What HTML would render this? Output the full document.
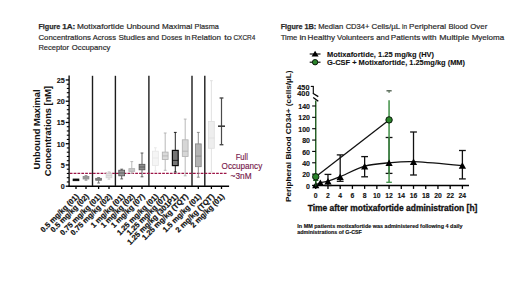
<!DOCTYPE html>
<html><head><meta charset="utf-8"><style>
html,body{margin:0;padding:0;background:#fff;width:520px;height:292px;overflow:hidden}
svg{display:block;font-family:"Liberation Sans", sans-serif}
</style></head><body>
<svg width="520" height="292" viewBox="0 0 520 292" font-family='"Liberation Sans", sans-serif'>
<rect width="520" height="292" fill="#fff"/>
<text stroke="#2a2a2a" stroke-width="0.25" x="38.40" y="28.9" font-size="8.1" fill="#2a2a2a" font-weight="bold" textLength="21.95" lengthAdjust="spacingAndGlyphs">Figure</text>
<text stroke="#2a2a2a" stroke-width="0.25" x="62.15" y="28.9" font-size="8.1" fill="#2a2a2a" font-weight="bold" textLength="13.20" lengthAdjust="spacingAndGlyphs">1A:</text>
<text stroke="#2a2a2a" stroke-width="0.2" x="76.90" y="28.9" font-size="8.1" fill="#2a2a2a" textLength="47.20" lengthAdjust="spacingAndGlyphs">Motixafortide</text>
<text stroke="#2a2a2a" stroke-width="0.2" x="126.40" y="28.9" font-size="8.1" fill="#2a2a2a" textLength="33.20" lengthAdjust="spacingAndGlyphs">Unbound</text>
<text stroke="#2a2a2a" stroke-width="0.2" x="162.05" y="28.9" font-size="8.1" fill="#2a2a2a" textLength="30.30" lengthAdjust="spacingAndGlyphs">Maximal</text>
<text stroke="#2a2a2a" stroke-width="0.2" x="194.55" y="28.9" font-size="8.1" fill="#2a2a2a" textLength="24.40" lengthAdjust="spacingAndGlyphs">Plasma</text>
<text stroke="#2a2a2a" stroke-width="0.2" x="38.40" y="39.6" font-size="8.1" fill="#2a2a2a" textLength="52.55" lengthAdjust="spacingAndGlyphs">Concentrations</text>
<text stroke="#2a2a2a" stroke-width="0.2" x="92.75" y="39.6" font-size="8.1" fill="#2a2a2a" textLength="23.20" lengthAdjust="spacingAndGlyphs">Across</text>
<text stroke="#2a2a2a" stroke-width="0.2" x="118.40" y="39.6" font-size="8.1" fill="#2a2a2a" textLength="26.95" lengthAdjust="spacingAndGlyphs">Studies</text>
<text stroke="#2a2a2a" stroke-width="0.2" x="146.90" y="39.6" font-size="8.1" fill="#2a2a2a" textLength="12.20" lengthAdjust="spacingAndGlyphs">and</text>
<text stroke="#2a2a2a" stroke-width="0.2" x="161.55" y="39.6" font-size="8.1" fill="#2a2a2a" textLength="20.70" lengthAdjust="spacingAndGlyphs">Doses</text>
<text stroke="#2a2a2a" stroke-width="0.2" x="184.65" y="39.6" font-size="8.1" fill="#2a2a2a" textLength="5.70" lengthAdjust="spacingAndGlyphs">in</text>
<text stroke="#2a2a2a" stroke-width="0.2" x="191.55" y="39.6" font-size="8.1" fill="#2a2a2a" textLength="29.40" lengthAdjust="spacingAndGlyphs">Relation</text>
<text stroke="#2a2a2a" stroke-width="0.2" x="224.25" y="39.6" font-size="8.1" fill="#2a2a2a" textLength="7.60" lengthAdjust="spacingAndGlyphs">to</text>
<text stroke="#2a2a2a" stroke-width="0.2" x="233.45" y="39.6" font-size="8.1" fill="#2a2a2a" textLength="21.90" lengthAdjust="spacingAndGlyphs">CXCR4</text>
<text stroke="#2a2a2a" stroke-width="0.2" x="38.40" y="49.6" font-size="8.1" fill="#2a2a2a" textLength="30.70" lengthAdjust="spacingAndGlyphs">Receptor</text>
<text stroke="#2a2a2a" stroke-width="0.2" x="71.85" y="49.6" font-size="8.1" fill="#2a2a2a" textLength="38.50" lengthAdjust="spacingAndGlyphs">Occupancy</text>
<text stroke="#2a2a2a" stroke-width="0.25" x="280.65" y="28.9" font-size="8.1" fill="#2a2a2a" font-weight="bold" textLength="21.95" lengthAdjust="spacingAndGlyphs">Figure</text>
<text stroke="#2a2a2a" stroke-width="0.25" x="304.40" y="28.9" font-size="8.1" fill="#2a2a2a" font-weight="bold" textLength="11.95" lengthAdjust="spacingAndGlyphs">1B:</text>
<text stroke="#2a2a2a" stroke-width="0.2" x="318.15" y="28.9" font-size="8.1" fill="#2a2a2a" textLength="25.10" lengthAdjust="spacingAndGlyphs">Median</text>
<text stroke="#2a2a2a" stroke-width="0.2" x="345.65" y="28.9" font-size="8.1" fill="#2a2a2a" textLength="23.80" lengthAdjust="spacingAndGlyphs">CD34+</text>
<text stroke="#2a2a2a" stroke-width="0.2" x="371.40" y="28.9" font-size="8.1" fill="#2a2a2a" textLength="28.85" lengthAdjust="spacingAndGlyphs">Cells/µL</text>
<text stroke="#2a2a2a" stroke-width="0.2" x="402.05" y="28.9" font-size="8.1" fill="#2a2a2a" textLength="5.05" lengthAdjust="spacingAndGlyphs">in</text>
<text stroke="#2a2a2a" stroke-width="0.2" x="409.05" y="28.9" font-size="8.1" fill="#2a2a2a" textLength="36.90" lengthAdjust="spacingAndGlyphs">Peripheral</text>
<text stroke="#2a2a2a" stroke-width="0.2" x="448.40" y="28.9" font-size="8.1" fill="#2a2a2a" textLength="19.45" lengthAdjust="spacingAndGlyphs">Blood</text>
<text stroke="#2a2a2a" stroke-width="0.2" x="470.25" y="28.9" font-size="8.1" fill="#2a2a2a" textLength="17.00" lengthAdjust="spacingAndGlyphs">Over</text>
<text stroke="#2a2a2a" stroke-width="0.2" x="280.65" y="39.6" font-size="8.1" fill="#2a2a2a" textLength="16.70" lengthAdjust="spacingAndGlyphs">Time</text>
<text stroke="#2a2a2a" stroke-width="0.2" x="299.40" y="39.6" font-size="8.1" fill="#2a2a2a" textLength="6.95" lengthAdjust="spacingAndGlyphs">in</text>
<text stroke="#2a2a2a" stroke-width="0.2" x="307.55" y="39.6" font-size="8.1" fill="#2a2a2a" textLength="27.55" lengthAdjust="spacingAndGlyphs">Healthy</text>
<text stroke="#2a2a2a" stroke-width="0.2" x="336.90" y="39.6" font-size="8.1" fill="#2a2a2a" textLength="36.95" lengthAdjust="spacingAndGlyphs">Volunteers</text>
<text stroke="#2a2a2a" stroke-width="0.2" x="376.25" y="39.6" font-size="8.1" fill="#2a2a2a" textLength="13.10" lengthAdjust="spacingAndGlyphs">and</text>
<text stroke="#2a2a2a" stroke-width="0.2" x="390.75" y="39.6" font-size="8.1" fill="#2a2a2a" textLength="29.50" lengthAdjust="spacingAndGlyphs">Patients</text>
<text stroke="#2a2a2a" stroke-width="0.2" x="422.05" y="39.6" font-size="8.1" fill="#2a2a2a" textLength="14.40" lengthAdjust="spacingAndGlyphs">with</text>
<text stroke="#2a2a2a" stroke-width="0.2" x="439.25" y="39.6" font-size="8.1" fill="#2a2a2a" textLength="30.10" lengthAdjust="spacingAndGlyphs">Multiple</text>
<text stroke="#2a2a2a" stroke-width="0.2" x="471.65" y="39.6" font-size="8.1" fill="#2a2a2a" textLength="32.60" lengthAdjust="spacingAndGlyphs">Myeloma</text>
<line x1="69.1" y1="75.6" x2="69.1" y2="186.4" stroke="#000" stroke-width="1.3"/>
<line x1="65.69999999999999" y1="186.20" x2="69.1" y2="186.20" stroke="#000" stroke-width="1.3"/>
<text stroke="#111" stroke-width="0.12" x="64.69999999999999" y="189.20" font-size="7.2" font-weight="bold" text-anchor="end" fill="#111">0</text>
<line x1="66.8" y1="181.95" x2="69.1" y2="181.95" stroke="#000" stroke-width="1.1"/>
<line x1="66.8" y1="177.70" x2="69.1" y2="177.70" stroke="#000" stroke-width="1.1"/>
<line x1="66.8" y1="173.45" x2="69.1" y2="173.45" stroke="#000" stroke-width="1.1"/>
<line x1="66.8" y1="169.20" x2="69.1" y2="169.20" stroke="#000" stroke-width="1.1"/>
<line x1="65.69999999999999" y1="164.95" x2="69.1" y2="164.95" stroke="#000" stroke-width="1.3"/>
<text stroke="#111" stroke-width="0.12" x="64.69999999999999" y="167.95" font-size="7.2" font-weight="bold" text-anchor="end" fill="#111">5</text>
<line x1="66.8" y1="160.70" x2="69.1" y2="160.70" stroke="#000" stroke-width="1.1"/>
<line x1="66.8" y1="156.45" x2="69.1" y2="156.45" stroke="#000" stroke-width="1.1"/>
<line x1="66.8" y1="152.20" x2="69.1" y2="152.20" stroke="#000" stroke-width="1.1"/>
<line x1="66.8" y1="147.95" x2="69.1" y2="147.95" stroke="#000" stroke-width="1.1"/>
<line x1="65.69999999999999" y1="143.70" x2="69.1" y2="143.70" stroke="#000" stroke-width="1.3"/>
<text stroke="#111" stroke-width="0.12" x="64.69999999999999" y="146.70" font-size="7.2" font-weight="bold" text-anchor="end" fill="#111">10</text>
<line x1="66.8" y1="139.45" x2="69.1" y2="139.45" stroke="#000" stroke-width="1.1"/>
<line x1="66.8" y1="135.20" x2="69.1" y2="135.20" stroke="#000" stroke-width="1.1"/>
<line x1="66.8" y1="130.95" x2="69.1" y2="130.95" stroke="#000" stroke-width="1.1"/>
<line x1="66.8" y1="126.70" x2="69.1" y2="126.70" stroke="#000" stroke-width="1.1"/>
<line x1="65.69999999999999" y1="122.45" x2="69.1" y2="122.45" stroke="#000" stroke-width="1.3"/>
<text stroke="#111" stroke-width="0.12" x="64.69999999999999" y="125.45" font-size="7.2" font-weight="bold" text-anchor="end" fill="#111">15</text>
<line x1="66.8" y1="118.20" x2="69.1" y2="118.20" stroke="#000" stroke-width="1.1"/>
<line x1="66.8" y1="113.95" x2="69.1" y2="113.95" stroke="#000" stroke-width="1.1"/>
<line x1="66.8" y1="109.70" x2="69.1" y2="109.70" stroke="#000" stroke-width="1.1"/>
<line x1="66.8" y1="105.45" x2="69.1" y2="105.45" stroke="#000" stroke-width="1.1"/>
<line x1="65.69999999999999" y1="101.20" x2="69.1" y2="101.20" stroke="#000" stroke-width="1.3"/>
<text stroke="#111" stroke-width="0.12" x="64.69999999999999" y="104.20" font-size="7.2" font-weight="bold" text-anchor="end" fill="#111">20</text>
<line x1="66.8" y1="96.95" x2="69.1" y2="96.95" stroke="#000" stroke-width="1.1"/>
<line x1="66.8" y1="92.70" x2="69.1" y2="92.70" stroke="#000" stroke-width="1.1"/>
<line x1="66.8" y1="88.45" x2="69.1" y2="88.45" stroke="#000" stroke-width="1.1"/>
<line x1="66.8" y1="84.20" x2="69.1" y2="84.20" stroke="#000" stroke-width="1.1"/>
<line x1="65.69999999999999" y1="79.95" x2="69.1" y2="79.95" stroke="#000" stroke-width="1.3"/>
<text stroke="#111" stroke-width="0.12" x="64.69999999999999" y="82.95" font-size="7.2" font-weight="bold" text-anchor="end" fill="#111">25</text>
<line x1="68.5" y1="186.2" x2="229.1" y2="186.2" stroke="#000" stroke-width="1.4"/>
<line x1="76" y1="186.2" x2="76" y2="189" stroke="#000" stroke-width="1.3"/>
<line x1="86" y1="186.2" x2="86" y2="189" stroke="#000" stroke-width="1.3"/>
<line x1="98.6" y1="186.2" x2="98.6" y2="189" stroke="#000" stroke-width="1.3"/>
<line x1="109" y1="186.2" x2="109" y2="189" stroke="#000" stroke-width="1.3"/>
<line x1="121.7" y1="186.2" x2="121.7" y2="189" stroke="#000" stroke-width="1.3"/>
<line x1="131.8" y1="186.2" x2="131.8" y2="189" stroke="#000" stroke-width="1.3"/>
<line x1="142" y1="186.2" x2="142" y2="189" stroke="#000" stroke-width="1.3"/>
<line x1="155.4" y1="186.2" x2="155.4" y2="189" stroke="#000" stroke-width="1.3"/>
<line x1="165.2" y1="186.2" x2="165.2" y2="189" stroke="#000" stroke-width="1.3"/>
<line x1="175.3" y1="186.2" x2="175.3" y2="189" stroke="#000" stroke-width="1.3"/>
<line x1="185.2" y1="186.2" x2="185.2" y2="189" stroke="#000" stroke-width="1.3"/>
<line x1="198.3" y1="186.2" x2="198.3" y2="189" stroke="#000" stroke-width="1.3"/>
<line x1="211.4" y1="186.2" x2="211.4" y2="189" stroke="#000" stroke-width="1.3"/>
<line x1="221.5" y1="186.2" x2="221.5" y2="189" stroke="#000" stroke-width="1.3"/>
<text stroke="#111" stroke-width="0.2" x="79.3" y="196.9" font-size="7.6" font-weight="bold" text-anchor="end" fill="#111" transform="rotate(-45 79.3 196.9)">0.5 mg/kg (01)</text>
<text stroke="#111" stroke-width="0.2" x="89.3" y="196.9" font-size="7.6" font-weight="bold" text-anchor="end" fill="#111" transform="rotate(-45 89.3 196.9)">0.5 mg/kg (02)</text>
<text stroke="#111" stroke-width="0.2" x="101.89999999999999" y="196.9" font-size="7.6" font-weight="bold" text-anchor="end" fill="#111" transform="rotate(-45 101.89999999999999 196.9)">0.75 mg/kg (01)</text>
<text stroke="#111" stroke-width="0.2" x="112.3" y="196.9" font-size="7.6" font-weight="bold" text-anchor="end" fill="#111" transform="rotate(-45 112.3 196.9)">0.75 mg/kg (02)</text>
<text stroke="#111" stroke-width="0.2" x="125.0" y="196.9" font-size="7.6" font-weight="bold" text-anchor="end" fill="#111" transform="rotate(-45 125.0 196.9)">1 mg/kg (01)</text>
<text stroke="#111" stroke-width="0.2" x="135.10000000000002" y="196.9" font-size="7.6" font-weight="bold" text-anchor="end" fill="#111" transform="rotate(-45 135.10000000000002 196.9)">1 mg/kg (02)</text>
<text stroke="#111" stroke-width="0.2" x="145.3" y="196.9" font-size="7.6" font-weight="bold" text-anchor="end" fill="#111" transform="rotate(-45 145.3 196.9)">1 mg/kg (07)</text>
<text stroke="#111" stroke-width="0.2" x="158.70000000000002" y="196.9" font-size="7.6" font-weight="bold" text-anchor="end" fill="#111" transform="rotate(-45 158.70000000000002 196.9)">1.25 mg/kg (01)</text>
<text stroke="#111" stroke-width="0.2" x="168.5" y="196.9" font-size="7.6" font-weight="bold" text-anchor="end" fill="#111" transform="rotate(-45 168.5 196.9)">1.25 mg/kg (07)</text>
<text stroke="#111" stroke-width="0.2" x="178.60000000000002" y="196.9" font-size="7.6" font-weight="bold" text-anchor="end" fill="#111" transform="rotate(-45 178.60000000000002 196.9)">1.25 mg/kg (301P1)</text>
<text stroke="#111" stroke-width="0.2" x="188.5" y="196.9" font-size="7.6" font-weight="bold" text-anchor="end" fill="#111" transform="rotate(-45 188.5 196.9)">1.25 mg/kg (TQT)</text>
<text stroke="#111" stroke-width="0.2" x="201.60000000000002" y="196.9" font-size="7.6" font-weight="bold" text-anchor="end" fill="#111" transform="rotate(-45 201.60000000000002 196.9)">1.5 mg/kg (01)</text>
<text stroke="#111" stroke-width="0.2" x="214.70000000000002" y="196.9" font-size="7.6" font-weight="bold" text-anchor="end" fill="#111" transform="rotate(-45 214.70000000000002 196.9)">2 mg/kg (TQT)</text>
<text stroke="#111" stroke-width="0.2" x="224.8" y="196.9" font-size="7.6" font-weight="bold" text-anchor="end" fill="#111" transform="rotate(-45 224.8 196.9)">2 mg/kg (01)</text>
<line x1="92.5" y1="75.8" x2="92.5" y2="186" stroke="#1c1c1c" stroke-width="1.4"/>
<line x1="115.4" y1="75.8" x2="115.4" y2="186" stroke="#1c1c1c" stroke-width="1.4"/>
<line x1="148.9" y1="75.8" x2="148.9" y2="186" stroke="#1c1c1c" stroke-width="1.4"/>
<line x1="192.0" y1="75.8" x2="192.0" y2="186" stroke="#1c1c1c" stroke-width="1.4"/>
<line x1="204.8" y1="75.8" x2="204.8" y2="186" stroke="#1c1c1c" stroke-width="1.4"/>
<line x1="69.8" y1="173.4" x2="226.6" y2="173.4" stroke="#9c1446" stroke-width="1.3" stroke-dasharray="2.7 1.15"/>
<text x="235.7" y="159.7" font-size="8.5" fill="#781a4c" stroke="#781a4c" stroke-width="0.15" textLength="12.2" lengthAdjust="spacingAndGlyphs">Full</text>
<text x="221.6" y="169.3" font-size="8.5" fill="#781a4c" stroke="#781a4c" stroke-width="0.15" textLength="40.6" lengthAdjust="spacingAndGlyphs">Occupancy</text>
<text x="230.6" y="178.9" font-size="8.5" fill="#781a4c" stroke="#781a4c" stroke-width="0.15" textLength="21" lengthAdjust="spacingAndGlyphs">~3nM</text>
<rect x="73.1" y="179.0" width="5.8" height="1.70" fill="#111" stroke="#000" stroke-width="0.8"/>
<line x1="86" y1="175.6" x2="86" y2="176.5" stroke="#8a8a8a" stroke-width="0.9"/>
<line x1="84.6" y1="175.6" x2="87.4" y2="175.6" stroke="#8a8a8a" stroke-width="0.9"/>
<line x1="86" y1="179.0" x2="86" y2="180.2" stroke="#8a8a8a" stroke-width="0.9"/>
<line x1="84.6" y1="180.2" x2="87.4" y2="180.2" stroke="#8a8a8a" stroke-width="0.9"/>
<rect x="83.1" y="176.5" width="5.8" height="2.50" fill="#a8a8a8" stroke="#8a8a8a" stroke-width="0.8"/>
<line x1="83.1" y1="177.8" x2="88.89999999999999" y2="177.8" stroke="#8a8a8a" stroke-width="0.8"/>
<line x1="98.6" y1="177.6" x2="98.6" y2="178.3" stroke="#6e6e6e" stroke-width="0.9"/>
<line x1="97.19999999999999" y1="177.6" x2="100.0" y2="177.6" stroke="#6e6e6e" stroke-width="0.9"/>
<line x1="98.6" y1="180.3" x2="98.6" y2="183.0" stroke="#6e6e6e" stroke-width="0.9"/>
<line x1="97.19999999999999" y1="183.0" x2="100.0" y2="183.0" stroke="#6e6e6e" stroke-width="0.9"/>
<rect x="95.69999999999999" y="178.3" width="5.8" height="2.00" fill="#8c8c8c" stroke="#6e6e6e" stroke-width="0.8"/>
<line x1="95.69999999999999" y1="179.2" x2="101.49999999999999" y2="179.2" stroke="#6e6e6e" stroke-width="0.8"/>
<line x1="109" y1="171.8" x2="109" y2="173.2" stroke="#cfcfcf" stroke-width="0.9"/>
<line x1="107.6" y1="171.8" x2="110.4" y2="171.8" stroke="#cfcfcf" stroke-width="0.9"/>
<line x1="109" y1="177.8" x2="109" y2="179.2" stroke="#cfcfcf" stroke-width="0.9"/>
<line x1="107.6" y1="179.2" x2="110.4" y2="179.2" stroke="#cfcfcf" stroke-width="0.9"/>
<rect x="106.1" y="173.2" width="5.8" height="4.60" fill="#e2e2e2" stroke="#cfcfcf" stroke-width="0.8"/>
<line x1="106.1" y1="175.6" x2="111.89999999999999" y2="175.6" stroke="#cfcfcf" stroke-width="0.8"/>
<line x1="121.7" y1="169.2" x2="121.7" y2="170.2" stroke="#505050" stroke-width="0.9"/>
<line x1="120.3" y1="169.2" x2="123.10000000000001" y2="169.2" stroke="#505050" stroke-width="0.9"/>
<line x1="121.7" y1="175.8" x2="121.7" y2="178.9" stroke="#505050" stroke-width="0.9"/>
<line x1="120.3" y1="178.9" x2="123.10000000000001" y2="178.9" stroke="#505050" stroke-width="0.9"/>
<rect x="118.8" y="170.2" width="5.8" height="5.60" fill="#9a9a9a" stroke="#505050" stroke-width="0.8"/>
<line x1="118.8" y1="173.0" x2="124.6" y2="173.0" stroke="#505050" stroke-width="0.8"/>
<line x1="131.8" y1="161.6" x2="131.8" y2="168.6" stroke="#b2b2b2" stroke-width="0.9"/>
<line x1="130.4" y1="161.6" x2="133.20000000000002" y2="161.6" stroke="#b2b2b2" stroke-width="0.9"/>
<line x1="131.8" y1="171.4" x2="131.8" y2="173.2" stroke="#b2b2b2" stroke-width="0.9"/>
<line x1="130.4" y1="173.2" x2="133.20000000000002" y2="173.2" stroke="#b2b2b2" stroke-width="0.9"/>
<rect x="128.9" y="168.6" width="5.8" height="2.80" fill="#d2d2d2" stroke="#b2b2b2" stroke-width="0.8"/>
<line x1="128.9" y1="170.0" x2="134.70000000000002" y2="170.0" stroke="#b2b2b2" stroke-width="0.8"/>
<line x1="142" y1="153.0" x2="142" y2="164.3" stroke="#505050" stroke-width="0.9"/>
<line x1="140.6" y1="153.0" x2="143.4" y2="153.0" stroke="#505050" stroke-width="0.9"/>
<line x1="142" y1="169.8" x2="142" y2="176.8" stroke="#505050" stroke-width="0.9"/>
<line x1="140.6" y1="176.8" x2="143.4" y2="176.8" stroke="#505050" stroke-width="0.9"/>
<rect x="139.1" y="164.3" width="5.8" height="5.50" fill="#8c8c8c" stroke="#505050" stroke-width="0.8"/>
<line x1="139.1" y1="167.0" x2="144.9" y2="167.0" stroke="#505050" stroke-width="0.8"/>
<line x1="155.4" y1="147.8" x2="155.4" y2="151.2" stroke="#e6e6e6" stroke-width="0.9"/>
<line x1="154.0" y1="147.8" x2="156.8" y2="147.8" stroke="#e6e6e6" stroke-width="0.9"/>
<line x1="155.4" y1="165.6" x2="155.4" y2="171.0" stroke="#e6e6e6" stroke-width="0.9"/>
<line x1="154.0" y1="171.0" x2="156.8" y2="171.0" stroke="#e6e6e6" stroke-width="0.9"/>
<rect x="152.5" y="151.2" width="5.8" height="14.40" fill="#f5f5f5" stroke="#e6e6e6" stroke-width="0.8"/>
<line x1="152.5" y1="158.0" x2="158.3" y2="158.0" stroke="#e6e6e6" stroke-width="0.8"/>
<line x1="165.2" y1="133.0" x2="165.2" y2="152.1" stroke="#b0b0b0" stroke-width="0.9"/>
<line x1="163.79999999999998" y1="133.0" x2="166.6" y2="133.0" stroke="#b0b0b0" stroke-width="0.9"/>
<line x1="165.2" y1="159.4" x2="165.2" y2="170.3" stroke="#b0b0b0" stroke-width="0.9"/>
<line x1="163.79999999999998" y1="170.3" x2="166.6" y2="170.3" stroke="#b0b0b0" stroke-width="0.9"/>
<rect x="162.29999999999998" y="152.1" width="5.8" height="7.30" fill="#dadada" stroke="#b0b0b0" stroke-width="0.8"/>
<line x1="162.29999999999998" y1="155.9" x2="168.1" y2="155.9" stroke="#b0b0b0" stroke-width="0.8"/>
<line x1="175.3" y1="132.4" x2="175.3" y2="150.4" stroke="#0a0a0a" stroke-width="0.9"/>
<line x1="173.9" y1="132.4" x2="176.70000000000002" y2="132.4" stroke="#0a0a0a" stroke-width="0.9"/>
<line x1="175.3" y1="165.6" x2="175.3" y2="172.0" stroke="#0a0a0a" stroke-width="0.9"/>
<line x1="173.9" y1="172.0" x2="176.70000000000002" y2="172.0" stroke="#0a0a0a" stroke-width="0.9"/>
<rect x="172.4" y="150.4" width="5.8" height="15.20" fill="#767676" stroke="#0a0a0a" stroke-width="1.2"/>
<line x1="172.4" y1="160.4" x2="178.20000000000002" y2="160.4" stroke="#0a0a0a" stroke-width="0.8"/>
<line x1="185.2" y1="119.1" x2="185.2" y2="139.8" stroke="#b0b0b0" stroke-width="0.9"/>
<line x1="183.79999999999998" y1="119.1" x2="186.6" y2="119.1" stroke="#b0b0b0" stroke-width="0.9"/>
<line x1="185.2" y1="156.5" x2="185.2" y2="175.8" stroke="#b0b0b0" stroke-width="0.9"/>
<line x1="183.79999999999998" y1="175.8" x2="186.6" y2="175.8" stroke="#b0b0b0" stroke-width="0.9"/>
<rect x="182.29999999999998" y="139.8" width="5.8" height="16.70" fill="#d6d6d6" stroke="#b0b0b0" stroke-width="0.8"/>
<line x1="182.29999999999998" y1="151.2" x2="188.1" y2="151.2" stroke="#b0b0b0" stroke-width="0.8"/>
<line x1="198.3" y1="132.4" x2="198.3" y2="143.9" stroke="#808080" stroke-width="0.9"/>
<line x1="196.9" y1="132.4" x2="199.70000000000002" y2="132.4" stroke="#808080" stroke-width="0.9"/>
<line x1="198.3" y1="166.7" x2="198.3" y2="177.2" stroke="#808080" stroke-width="0.9"/>
<line x1="196.9" y1="177.2" x2="199.70000000000002" y2="177.2" stroke="#808080" stroke-width="0.9"/>
<rect x="195.4" y="143.9" width="5.8" height="22.80" fill="#b4b4b4" stroke="#808080" stroke-width="0.8"/>
<line x1="195.4" y1="156.1" x2="201.20000000000002" y2="156.1" stroke="#808080" stroke-width="0.8"/>
<line x1="211.4" y1="80.7" x2="211.4" y2="121.4" stroke="#dedede" stroke-width="0.9"/>
<line x1="210.0" y1="80.7" x2="212.8" y2="80.7" stroke="#dedede" stroke-width="0.9"/>
<line x1="211.4" y1="148.3" x2="211.4" y2="172.0" stroke="#dedede" stroke-width="0.9"/>
<line x1="210.0" y1="172.0" x2="212.8" y2="172.0" stroke="#dedede" stroke-width="0.9"/>
<rect x="208.5" y="121.4" width="5.8" height="26.90" fill="#eeeeee" stroke="#dedede" stroke-width="0.8"/>
<line x1="208.5" y1="138.0" x2="214.3" y2="138.0" stroke="#dedede" stroke-width="0.8"/>
<line x1="221.5" y1="98" x2="221.5" y2="144.7" stroke="#4a4a4a" stroke-width="1.2"/>
<line x1="219.6" y1="98" x2="223.4" y2="98" stroke="#4a4a4a" stroke-width="1.4"/>
<line x1="219.6" y1="144.7" x2="223.4" y2="144.7" stroke="#4a4a4a" stroke-width="1.4"/>
<line x1="218.0" y1="126.2" x2="225.0" y2="126.2" stroke="#3a3a3a" stroke-width="1.6"/>
<text stroke="#111" stroke-width="0.05" transform="translate(40.2 129.4) rotate(-90)" font-size="9.3" font-weight="bold" text-anchor="middle" fill="#111">Unbound Maximal</text>
<text stroke="#111" stroke-width="0.05" transform="translate(50.8 131.0) rotate(-90)" font-size="9.3" font-weight="bold" text-anchor="middle" fill="#111">Concentrations [nM]</text>
<line x1="315.75" y1="100.5" x2="315.75" y2="186.2" stroke="#1d5a1d" stroke-width="1.4"/>
<line x1="312.15" y1="185.50" x2="315.75" y2="185.50" stroke="#000" stroke-width="1.1"/>
<text stroke="#111" stroke-width="0.12" x="309.95" y="188.60" font-size="7.0" font-weight="bold" text-anchor="end" fill="#111">0</text>
<line x1="312.15" y1="174.14" x2="315.75" y2="174.14" stroke="#000" stroke-width="1.1"/>
<text stroke="#111" stroke-width="0.12" x="309.95" y="177.24" font-size="7.0" font-weight="bold" text-anchor="end" fill="#111">20</text>
<line x1="312.15" y1="162.78" x2="315.75" y2="162.78" stroke="#000" stroke-width="1.1"/>
<text stroke="#111" stroke-width="0.12" x="309.95" y="165.88" font-size="7.0" font-weight="bold" text-anchor="end" fill="#111">40</text>
<line x1="312.15" y1="151.42" x2="315.75" y2="151.42" stroke="#000" stroke-width="1.1"/>
<text stroke="#111" stroke-width="0.12" x="309.95" y="154.52" font-size="7.0" font-weight="bold" text-anchor="end" fill="#111">60</text>
<line x1="312.15" y1="140.06" x2="315.75" y2="140.06" stroke="#000" stroke-width="1.1"/>
<text stroke="#111" stroke-width="0.12" x="309.95" y="143.16" font-size="7.0" font-weight="bold" text-anchor="end" fill="#111">80</text>
<line x1="312.15" y1="128.70" x2="315.75" y2="128.70" stroke="#000" stroke-width="1.1"/>
<text stroke="#111" stroke-width="0.12" x="309.95" y="131.80" font-size="7.0" font-weight="bold" text-anchor="end" fill="#111">100</text>
<line x1="312.15" y1="117.34" x2="315.75" y2="117.34" stroke="#000" stroke-width="1.1"/>
<text stroke="#111" stroke-width="0.12" x="309.95" y="120.44" font-size="7.0" font-weight="bold" text-anchor="end" fill="#111">120</text>
<line x1="312.15" y1="105.98" x2="315.75" y2="105.98" stroke="#000" stroke-width="1.1"/>
<text stroke="#111" stroke-width="0.12" x="309.95" y="109.08" font-size="7.0" font-weight="bold" text-anchor="end" fill="#111">140</text>
<line x1="313.3" y1="86.4" x2="313.3" y2="93.2" stroke="#000" stroke-width="1.1"/>
<line x1="310.8" y1="86.4" x2="313.8" y2="86.4" stroke="#000" stroke-width="1.1"/>
<text stroke="#111" stroke-width="0.12" x="309.5" y="90.0" font-size="7.3" font-weight="bold" text-anchor="end" fill="#111">450</text>
<text stroke="#111" stroke-width="0.12" x="309.5" y="95.9" font-size="7.3" font-weight="bold" text-anchor="end" fill="#111">400</text>
<line x1="312.8" y1="93.2" x2="318.3" y2="96.6" stroke="#000" stroke-width="1.3"/>
<line x1="313.2" y1="97.4" x2="318.3" y2="101.3" stroke="#000" stroke-width="1.3"/>
<line x1="312.5" y1="185.5" x2="469" y2="185.5" stroke="#000" stroke-width="1.4"/>
<line x1="315.75" y1="185.6" x2="315.75" y2="188.9" stroke="#000" stroke-width="1.3"/>
<text stroke="#111" stroke-width="0.12" x="315.75" y="197.8" font-size="6.8" font-weight="bold" text-anchor="middle" fill="#111">0</text>
<line x1="327.97" y1="185.6" x2="327.97" y2="188.9" stroke="#000" stroke-width="1.3"/>
<text stroke="#111" stroke-width="0.12" x="327.97" y="197.8" font-size="6.8" font-weight="bold" text-anchor="middle" fill="#111">2</text>
<line x1="340.19" y1="185.6" x2="340.19" y2="188.9" stroke="#000" stroke-width="1.3"/>
<text stroke="#111" stroke-width="0.12" x="340.19" y="197.8" font-size="6.8" font-weight="bold" text-anchor="middle" fill="#111">4</text>
<line x1="352.41" y1="185.6" x2="352.41" y2="188.9" stroke="#000" stroke-width="1.3"/>
<text stroke="#111" stroke-width="0.12" x="352.41" y="197.8" font-size="6.8" font-weight="bold" text-anchor="middle" fill="#111">6</text>
<line x1="364.63" y1="185.6" x2="364.63" y2="188.9" stroke="#000" stroke-width="1.3"/>
<text stroke="#111" stroke-width="0.12" x="364.63" y="197.8" font-size="6.8" font-weight="bold" text-anchor="middle" fill="#111">8</text>
<line x1="376.85" y1="185.6" x2="376.85" y2="188.9" stroke="#000" stroke-width="1.3"/>
<text stroke="#111" stroke-width="0.12" x="376.85" y="197.8" font-size="6.8" font-weight="bold" text-anchor="middle" fill="#111">10</text>
<line x1="389.07" y1="185.6" x2="389.07" y2="188.9" stroke="#000" stroke-width="1.3"/>
<text stroke="#111" stroke-width="0.12" x="389.07" y="197.8" font-size="6.8" font-weight="bold" text-anchor="middle" fill="#111">12</text>
<line x1="401.29" y1="185.6" x2="401.29" y2="188.9" stroke="#000" stroke-width="1.3"/>
<text stroke="#111" stroke-width="0.12" x="401.29" y="197.8" font-size="6.8" font-weight="bold" text-anchor="middle" fill="#111">14</text>
<line x1="413.51" y1="185.6" x2="413.51" y2="188.9" stroke="#000" stroke-width="1.3"/>
<text stroke="#111" stroke-width="0.12" x="413.51" y="197.8" font-size="6.8" font-weight="bold" text-anchor="middle" fill="#111">16</text>
<line x1="425.73" y1="185.6" x2="425.73" y2="188.9" stroke="#000" stroke-width="1.3"/>
<text stroke="#111" stroke-width="0.12" x="425.73" y="197.8" font-size="6.8" font-weight="bold" text-anchor="middle" fill="#111">18</text>
<line x1="437.95" y1="185.6" x2="437.95" y2="188.9" stroke="#000" stroke-width="1.3"/>
<text stroke="#111" stroke-width="0.12" x="437.95" y="197.8" font-size="6.8" font-weight="bold" text-anchor="middle" fill="#111">20</text>
<line x1="450.17" y1="185.6" x2="450.17" y2="188.9" stroke="#000" stroke-width="1.3"/>
<text stroke="#111" stroke-width="0.12" x="450.17" y="197.8" font-size="6.8" font-weight="bold" text-anchor="middle" fill="#111">22</text>
<line x1="462.39" y1="185.6" x2="462.39" y2="188.9" stroke="#000" stroke-width="1.3"/>
<text stroke="#111" stroke-width="0.12" x="462.39" y="197.8" font-size="6.8" font-weight="bold" text-anchor="middle" fill="#111">24</text>
<text x="307.7" y="210.6" font-size="8.3" font-weight="bold" fill="#111" stroke="#111" stroke-width="0.3" textLength="169.7" lengthAdjust="spacingAndGlyphs">Time after motixafortide administration [h]</text>
<text x="297.3" y="227.5" font-size="5.8" font-weight="bold" fill="#111" stroke="#111" stroke-width="0.15" textLength="165.2" lengthAdjust="spacingAndGlyphs">In MM patients motixafortide was administered following 4 daily</text>
<text x="297.3" y="233.6" font-size="5.8" font-weight="bold" fill="#111" stroke="#111" stroke-width="0.15" textLength="64.6" lengthAdjust="spacingAndGlyphs">administrations of G-CSF</text>
<text stroke="#111" stroke-width="0.05" transform="translate(291.4 136.2) rotate(-90)" font-size="8.1" font-weight="bold" text-anchor="middle" fill="#111" textLength="131.5" lengthAdjust="spacingAndGlyphs">Peripheral Blood CD34+ (cells/µL)</text>
<line x1="315.75" y1="176.75" x2="389.07" y2="119.90" stroke="#111" stroke-width="1.3"/>
<path d="M315.75,184.93 C316.40,184.62 318.59,183.25 320.33,182.72 C322.08,182.18 325.13,182.04 327.97,181.18 C330.81,180.32 334.95,178.84 340.19,176.70 C345.43,174.55 357.65,168.18 364.63,166.19 C371.61,164.20 382.09,163.42 389.07,162.78 C396.05,162.14 403.04,161.31 413.51,161.70 C423.98,162.09 455.41,164.96 462.39,165.51" fill="none" stroke="#111" stroke-width="1.3"/>
<line x1="327.97" y1="174.4" x2="327.97" y2="185.5" stroke="#111" stroke-width="1.3"/>
<line x1="324.57" y1="174.4" x2="331.37" y2="174.4" stroke="#111" stroke-width="1.3"/>
<line x1="324.57" y1="185.5" x2="331.37" y2="185.5" stroke="#111" stroke-width="1.3"/>
<line x1="340.19" y1="154.9" x2="340.19" y2="181.3" stroke="#111" stroke-width="1.3"/>
<line x1="336.79" y1="154.9" x2="343.59" y2="154.9" stroke="#111" stroke-width="1.3"/>
<line x1="336.79" y1="181.3" x2="343.59" y2="181.3" stroke="#111" stroke-width="1.3"/>
<line x1="364.63" y1="156.6" x2="364.63" y2="176.8" stroke="#111" stroke-width="1.3"/>
<line x1="361.23" y1="156.6" x2="368.03" y2="156.6" stroke="#111" stroke-width="1.3"/>
<line x1="361.23" y1="176.8" x2="368.03" y2="176.8" stroke="#111" stroke-width="1.3"/>
<line x1="389.07" y1="137.5" x2="389.07" y2="173.4" stroke="#111" stroke-width="1.3"/>
<line x1="385.67" y1="137.5" x2="392.47" y2="137.5" stroke="#111" stroke-width="1.3"/>
<line x1="385.67" y1="173.4" x2="392.47" y2="173.4" stroke="#111" stroke-width="1.3"/>
<line x1="413.51" y1="132" x2="413.51" y2="175" stroke="#111" stroke-width="1.3"/>
<line x1="410.11" y1="132" x2="416.91" y2="132" stroke="#111" stroke-width="1.3"/>
<line x1="410.11" y1="175" x2="416.91" y2="175" stroke="#111" stroke-width="1.3"/>
<line x1="462.39" y1="150.5" x2="462.39" y2="178.9" stroke="#111" stroke-width="1.3"/>
<line x1="458.99" y1="150.5" x2="465.79" y2="150.5" stroke="#111" stroke-width="1.3"/>
<line x1="458.99" y1="178.9" x2="465.79" y2="178.9" stroke="#111" stroke-width="1.3"/>
<line x1="389.07" y1="100.2" x2="389.07" y2="182.3" stroke="#3f9046" stroke-width="1.5"/>
<line x1="386.27" y1="182.3" x2="391.87" y2="182.3" stroke="#3f9046" stroke-width="1.3"/>
<line x1="389.07" y1="90.8" x2="389.07" y2="93" stroke="#6a886a" stroke-width="1.2"/>
<line x1="386.47" y1="90.8" x2="391.67" y2="90.8" stroke="#4a5a4a" stroke-width="1.3"/>
<line x1="313.15" y1="180.5" x2="318.35" y2="180.5" stroke="#1d5a1d" stroke-width="1.1"/>
<path d="M312.10,188.13 L315.75,181.73 L319.40,188.13 Z" fill="#000"/>
<path d="M316.68,185.92 L320.33,179.52 L323.98,185.92 Z" fill="#000"/>
<path d="M324.32,184.38 L327.97,177.98 L331.62,184.38 Z" fill="#000"/>
<path d="M336.54,179.90 L340.19,173.50 L343.84,179.90 Z" fill="#000"/>
<path d="M360.98,169.39 L364.63,162.99 L368.28,169.39 Z" fill="#000"/>
<path d="M385.42,165.98 L389.07,159.58 L392.72,165.98 Z" fill="#000"/>
<path d="M409.86,164.90 L413.51,158.50 L417.16,164.90 Z" fill="#000"/>
<path d="M458.74,168.71 L462.39,162.31 L466.04,168.71 Z" fill="#000"/>
<line x1="315.75" y1="178" x2="315.75" y2="186.2" stroke="#1d5a1d" stroke-width="1.4" opacity="0.8"/>
<circle cx="315.75" cy="176.75" r="3.2" fill="#2a842a" stroke="#0a1a0a" stroke-width="1.0"/>
<circle cx="389.07" cy="119.90" r="3.2" fill="#2a842a" stroke="#0a1a0a" stroke-width="1.0"/>
<line x1="309.7" y1="54.0" x2="320.5" y2="54.0" stroke="#111" stroke-width="1.2"/>
<path d="M311.60,56.40 L315.10,50.80 L318.60,56.40 Z" fill="#000"/>
<line x1="309.7" y1="62.2" x2="320.5" y2="62.2" stroke="#111" stroke-width="1.2"/>
<circle cx="315.1" cy="62.2" r="2.7" fill="#2a842a" stroke="#0a1a0a" stroke-width="1.0"/>
<text stroke="#111" stroke-width="0.12" x="327" y="56.8" font-size="7.45" font-weight="bold" fill="#111" textLength="107" lengthAdjust="spacingAndGlyphs">Motixafortide, 1.25 mg/kg (HV)</text>
<text stroke="#111" stroke-width="0.12" x="327" y="65.2" font-size="7.45" font-weight="bold" fill="#111" textLength="138" lengthAdjust="spacingAndGlyphs">G-CSF + Motixafortide, 1.25mg/kg (MM)</text>
</svg>
</body></html>
